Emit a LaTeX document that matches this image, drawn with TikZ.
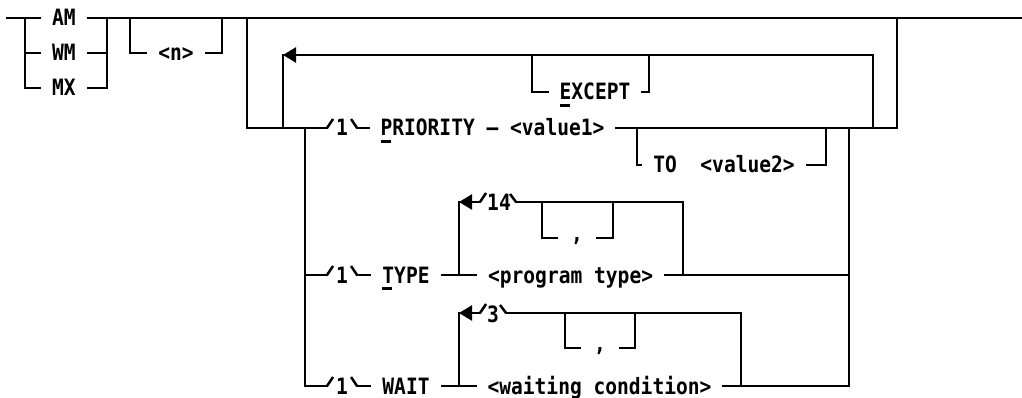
\documentclass[tikz,border=0pt]{standalone}
\usepackage{fontspec}
\newfontfamily\diafam[FakeStretch=0.87]{DejaVu Sans Mono}
\usetikzlibrary{arrows.meta}
\newcommand\ulc[1]{\rlap{\rule[-7pt]{10pt}{2.6pt}}#1}
\tikzset{
  rr/.style={line width=2.5pt, line cap=rect, line join=miter},
  sl/.style={line width=2.5pt, line cap=butt, line join=round},
  txt/.style={font=\diafam\bfseries\fontsize{22.5}{22.5}\selectfont, inner xsep=12pt, inner ysep=0pt, text height=16pt, text depth=0pt},
  lbl/.style={txt, inner xsep=0pt},
  commabox/.style={font=\diafam\bfseries\fontsize{22.5}{22.5}\selectfont, inner xsep=14pt, inner ysep=0pt, text height=6pt, text depth=0pt},
  loopar/.style={rr, -{Triangle[length=13pt,width=15pt]}},
}
\begin{document}
\begin{tikzpicture}[x=1pt,y=-1pt]
\useasboundingbox (0,0) rectangle (1022,398);

% ---------- AM / WM / MX choice ----------
\coordinate (s0) at (7,18);
\coordinate (e0) at (1022,18);
\node[txt] (am) at (64,18) {AM};
\node[txt] (wm) at (64,53) {WM};
\node[txt] (mx) at (64,88) {MX};
\coordinate (la) at (25,18);
\coordinate (lw) at (25,53);
\coordinate (lm) at (25,88);
\coordinate (ra) at (107,18);
\coordinate (rw) at (107,53);
\coordinate (rm) at (107,88);
\draw[rr] (s0) -- (am.west);
\draw[rr] (am.east) -- (e0);
\draw[rr] (la) -- (lm) -- (mx.west);
\draw[rr] (lw) -- (wm.west);
\draw[rr] (wm.east) -- (rw);
\draw[rr] (mx.east) -- (rm) -- (ra);

% ---------- optional <n> ----------
\node[txt] (n) at (176,53) {<n>};
\coordinate (na) at (130,18);
\coordinate (nb) at (130,53);
\coordinate (nc) at (222,53);
\coordinate (nd) at (222,18);
\draw[rr] (na) -- (nb) -- (n.west);
\draw[rr] (n.east) -- (nc) -- (nd);

% ---------- big group ----------
\coordinate (ga) at (247,18);
\coordinate (gb) at (247,128);
\coordinate (p0) at (327,128);
\coordinate (p0t) at (333,119);
\node[lbl] (p1) at (342,128) {1};
\coordinate (p2) at (351,119);
\coordinate (p3) at (357,128);
\node[txt] (pri) at (492.5,128) {\ulc{P}RIORITY – <value1>};
\coordinate (ge) at (897,128);
\coordinate (gf) at (897,18);
\draw[rr] (ga) -- (gb) -- (p0);
\draw[sl] (p0) -- (p0t);
\draw[sl] (p2) -- (p3);
\draw[rr] (p3) -- (pri.west);
\draw[rr] (pri.east) -- (ge) -- (gf);

% repeat loop with EXCEPT
\coordinate (lpb) at (283,128);
\coordinate (lpc) at (283,55);
\coordinate (lpr) at (873,55);
\coordinate (lpd) at (873,128);
\draw[rr] (lpb) -- (lpc);
\draw[loopar] (lpd) -- (lpr) -- (lpc);
\node[txt] (exc) at (595,92) {\ulc{E}XCEPT};
\coordinate (xa) at (532,55);
\coordinate (xb) at (532,92);
\coordinate (xc) at (649,92);
\coordinate (xd) at (649,55);
\draw[rr] (xa) -- (xb) -- (exc.west);
\draw[rr] (exc.east) -- (xc) -- (xd);

% TO <value2>
\node[txt] (to) at (724,165) {TO\ \ <value2>};
\coordinate (ta) at (637,128);
\coordinate (tb) at (637,165);
\coordinate (tc) at (826,165);
\coordinate (td) at (826,128);
\draw[rr] (ta) -- (tb) -- (to.west);
\draw[rr] (to.east) -- (tc) -- (td);

% inner rails
\coordinate (il1) at (305,128);
\coordinate (il2) at (305,386);
\coordinate (t0) at (305,275);
\coordinate (rr1) at (849,128);
\coordinate (rr2) at (849,386);
\coordinate (rt) at (849,275);

% ---------- TYPE ----------
\coordinate (t0b) at (327,275);
\coordinate (t0t) at (333,266);
\node[lbl] (t1) at (342,275) {1};
\coordinate (t2) at (351,266);
\coordinate (t3) at (357,275);
\node[txt] (type) at (406,275) {\ulc{T}YPE};
\node[txt] (pt) at (570.6,275) {<program type>};
\draw[rr] (t0) -- (t0b);
\draw[sl] (t0b) -- (t0t);
\draw[sl] (t2) -- (t3);
\draw[rr] (t3) -- (type.west);
\draw[rr] (type.east) -- (pt.west);
\draw[rr] (pt.east) -- (rt);
% loop 14
\coordinate (k1) at (459,275);
\coordinate (k2) at (459,202);
\coordinate (k3) at (480,202);
\coordinate (k3t) at (486,193);
\node[lbl] (k14) at (499,203) {14};
\coordinate (k4) at (510,194);
\coordinate (k4b) at (516,202);
\coordinate (k5) at (683,202);
\coordinate (k6) at (683,275);
\draw[rr] (k1) -- (k2);
\draw[loopar] (k3) -- (k2);
\draw[sl] (k3) -- (k3t);
\draw[sl] (k4) -- (k4b);
\draw[rr] (k4b) -- (k5) -- (k6);
\node[commabox] (cm1) at (577,238) {,};
\coordinate (c1a) at (542,202);
\coordinate (c1b) at (542,238);
\coordinate (c1c) at (613,238);
\coordinate (c1d) at (613,202);
\draw[rr] (c1a) -- (c1b) -- (cm1.west);
\draw[rr] (cm1.east) -- (c1c) -- (c1d);

% ---------- WAIT ----------
\coordinate (q0) at (327,386);
\coordinate (q0t) at (333,377);
\node[lbl] (w1) at (342,386) {1};
\coordinate (w2) at (351,377);
\coordinate (w3) at (357,386);
\node[txt] (wait) at (406,386) {WAIT};
\node[txt] (wc) at (599.5,386) {<waiting condition>};
\draw[rr] (il1) -- (il2) -- (q0);
\draw[sl] (q0) -- (q0t);
\draw[sl] (w2) -- (w3);
\draw[rr] (w3) -- (wait.west);
\draw[rr] (wait.east) -- (wc.west);
\draw[rr] (rr1) -- (rr2) -- (wc.east);
% loop 3
\coordinate (m1) at (459,386);
\coordinate (m2) at (459,313);
\coordinate (m3) at (480,313);
\coordinate (m3t) at (486,304);
\node[lbl] (m33) at (493,314) {3};
\coordinate (m4) at (500,305);
\coordinate (m4b) at (506,313);
\coordinate (m5) at (741,313);
\coordinate (m6) at (741,386);
\draw[rr] (m1) -- (m2);
\draw[loopar] (m3) -- (m2);
\draw[sl] (m3) -- (m3t);
\draw[sl] (m4) -- (m4b);
\draw[rr] (m4b) -- (m5) -- (m6);
\node[commabox] (cm2) at (600,348) {,};
\coordinate (c2a) at (565,313);
\coordinate (c2b) at (565,348);
\coordinate (c2c) at (635,348);
\coordinate (c2d) at (635,313);
\draw[rr] (c2a) -- (c2b) -- (cm2.west);
\draw[rr] (cm2.east) -- (c2c) -- (c2d);
\end{tikzpicture}
\end{document}
